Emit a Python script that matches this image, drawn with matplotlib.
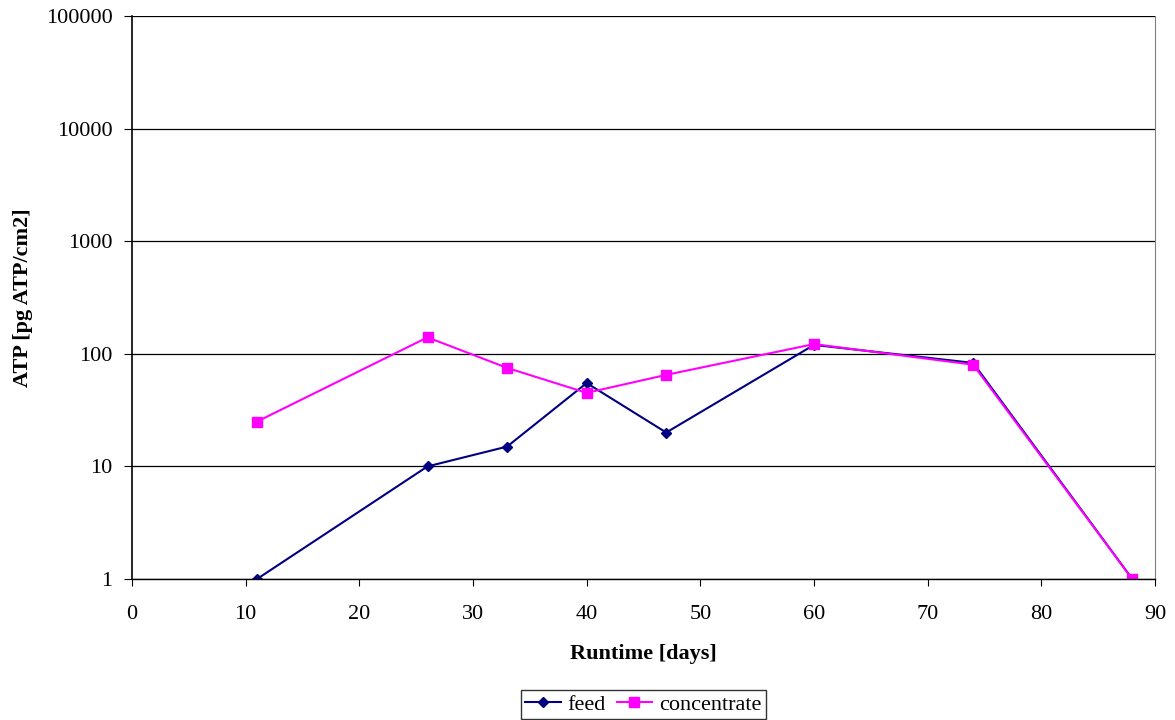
import matplotlib
matplotlib.use("Agg")
import matplotlib.pyplot as plt
from matplotlib.ticker import FixedLocator, FixedFormatter

days = [11, 26, 33, 40, 47, 60, 74, 88]
feed = [1, 10, 15, 55, 20, 120, 83, 1]
concentrate = [25, 140, 75, 45, 65, 122, 80, 1]

yticks = [1, 10, 100, 1000, 10000, 100000]
ylabels = ["1", "10", "100", "1000", "10000", "100000"]

plt.rcParams["font.family"] = ["Liberation Serif", "DejaVu Serif"]

fig = plt.figure(figsize=(11.75, 7.2), dpi=100)
ax = fig.add_axes([0.1123, 0.1958, 0.8707, 0.782])

ax.plot(days, feed, color="#000080", marker="D", markersize=5.5, lw=1.5, label="feed")
ax.plot(days, concentrate, color="#FF00FF", marker="s", markersize=7, lw=1.5, label="concentrate")

ax.set_yscale("log")
ax.set_ylim(1, 100000)
ax.set_xlim(0, 90)
ax.yaxis.set_major_locator(FixedLocator(yticks))
ax.yaxis.set_major_formatter(FixedFormatter(ylabels))
ax.yaxis.set_minor_locator(FixedLocator([]))
ax.set_xticks(range(0, 91, 10))
ax.grid(axis="y", color="black", lw=0.9)
ax.set_axisbelow(True)

ax.spines["top"].set_visible(False)
ax.spines["right"].set_color("#808080")
ax.spines["left"].set_linewidth(1.2)
ax.spines["bottom"].set_linewidth(1.0)
ax.tick_params(axis="both", labelsize=16, direction="out")
ax.tick_params(axis="x", length=5, pad=14)
ax.tick_params(axis="y", length=6, pad=8)

ax.set_xlabel("Runtime [days]", fontsize=16, fontweight="bold", labelpad=14)
ax.set_ylabel("ATP [pg ATP/cm2]", fontsize=16, fontweight="bold", labelpad=9)

leg = ax.legend(loc="upper center", bbox_to_anchor=(0.5473, 0.0417),
                bbox_transform=fig.transFigure, ncol=2, fontsize=16,
                frameon=True, fancybox=False, edgecolor="black", handlelength=1.6,
                handletextpad=0.3, columnspacing=0.5, borderpad=0.2, borderaxespad=0)
leg.get_frame().set_linewidth(1.0)

fig.savefig("out.png", dpi=100)
